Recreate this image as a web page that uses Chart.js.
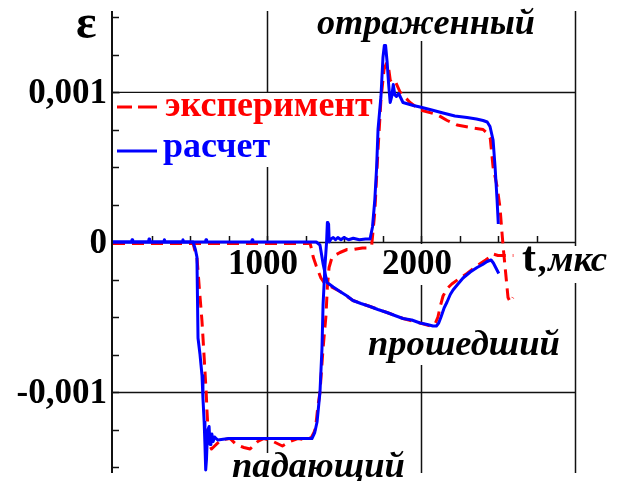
<!DOCTYPE html>
<html>
<head>
<meta charset="utf-8">
<script src="https://cdn.jsdelivr.net/npm/chart.js@4.4.0/dist/chart.umd.min.js"></script>
<style>
html,body{margin:0;padding:0;background:#fff;}
#wrap{width:624px;height:481px;position:relative;}
</style>
</head>
<body>
<div id="wrap"><canvas id="c"></canvas></div>
<script>
(function () {

/* strain values in units of 1e-3, time in microseconds */

// incident + reflected, calculation
const blueGauge1 = [
[0,0],[120,0],[124,0.015],[128,0],[230,0],[234,0.02],[238,0],[330,0],[334,0.015],[338,0],[450,0],[454,0.015],[458,0],
[520,0],[535,-0.05],[545,-0.1],[552,-0.64],[565,-0.75],[578,-0.89],[584,-1.04],[592,-1.2],[597,-1.35],[602,-1.52],
[607,-1.45],[612,-1.31],[617,-1.25],[624,-1.23],[630,-1.35],[636,-1.3],[642,-1.28],[650,-1.33],[660,-1.3],[680,-1.32],
[750,-1.31],[900,-1.31],[1100,-1.31],[1292,-1.31],[1310,-1.27],[1325,-1.2],[1344,-1.0],[1357,-0.71],[1364,-0.42],
[1377,-0.15],[1387,0],[1392,0.13],[1396,0.1],[1400,0.12],[1404,0],[1415,0.02],[1430,0.03],[1445,0.015],[1460,0.03],
[1480,0.015],[1500,0.03],[1530,0.015],[1560,0.025],[1600,0.015],[1640,0.02],[1669,0.02],[1685,0.1],[1700,0.28],[1712,0.5],
[1721,0.75],[1740,0.97],[1753,1.23],[1762,1.31],[1770,1.31],[1780,1.2],[1790,1.05],[1800,0.93],[1810,0.97],[1820,1.05],
[1830,0.98],[1840,0.97],[1855,0.99],[1883,0.93],[1950,0.91],[1994,0.9],[2070,0.88],[2143,0.86],[2220,0.84],[2299,0.83],
[2360,0.82],[2403,0.81],[2430,0.8],[2448,0.77],[2468,0.68],[2481,0.5],[2494,0.28],[2502,0.12]
];

// transmitted, calculation
const blueGauge2 = [
[0,0],[600,0],[604,0.015],[608,0],[900,0],[904,0.015],[908,0],[1320,0],[1344,-0.02],[1365,-0.15],[1390,-0.27],[1430,-0.3],
[1474,-0.33],[1520,-0.36],[1558,-0.39],[1610,-0.41],[1669,-0.43],[1720,-0.45],[1779,-0.47],[1830,-0.49],[1883,-0.51],
[1940,-0.52],[1994,-0.54],[2040,-0.55],[2078,-0.56],[2100,-0.56],[2115,-0.54],[2130,-0.5],[2150,-0.44],[2169,-0.4],
[2190,-0.35],[2208,-0.32],[2240,-0.28],[2273,-0.24],[2320,-0.2],[2364,-0.17],[2400,-0.15],[2429,-0.13],[2455,-0.12],
[2470,-0.14],[2490,-0.18],[2505,-0.21]
];

// incident + reflected, experiment
const redGauge1 = [
[0,-0.01],[520,-0.01],[530,-0.05],[545,-0.1],[560,-0.3],[578,-0.53],[592,-0.77],[605,-1.0],[610,-1.12],[617,-1.25],
[625,-1.35],[640,-1.38],[660,-1.36],[700,-1.32],[760,-1.31],[800,-1.35],[850,-1.37],[890,-1.38],[940,-1.33],[980,-1.31],
[1040,-1.33],[1100,-1.36],[1150,-1.33],[1200,-1.31],[1260,-1.32],[1290,-1.3],[1305,-1.27],[1315,-1.24],[1330,-1.1],
[1344,-1.0],[1364,-0.71],[1383,-0.49],[1392,-0.3],[1403,-0.17],[1420,-0.11],[1440,-0.09],[1474,-0.07],[1520,-0.05],
[1560,-0.05],[1620,-0.04],[1660,-0.04],[1680,-0.02],[1700,0.2],[1720,0.6],[1740,0.95],[1760,1.15],[1775,1.19],[1786,1.19],
[1800,1.08],[1818,1.05],[1838,1.06],[1864,1.0],[1929,0.93],[1994,0.88],[2104,0.85],[2170,0.81],[2234,0.78],[2338,0.76],
[2403,0.75],[2435,0.72],[2450,0.69],[2468,0.5],[2494,0.37],[2513,0.23],[2526,0.06],[2535,-0.05],[2552,-0.23],[2565,-0.37],
[2580,-0.4],[2597,-0.37]
];

// transmitted, experiment
const redGauge2 = [
[0,-0.01],[1280,-0.01],[1290,-0.05],[1300,-0.1],[1310,-0.13],[1320,-0.16],[1335,-0.2],[1350,-0.24],[1370,-0.27],[1400,-0.29],
[1474,-0.33],[1558,-0.39],[1669,-0.43],[1779,-0.47],[1883,-0.51],[1994,-0.54],[2060,-0.56],[2090,-0.55],[2110,-0.5],
[2125,-0.43],[2143,-0.36],[2170,-0.31],[2200,-0.28],[2240,-0.25],[2299,-0.21],[2360,-0.16],[2420,-0.12],[2448,-0.1],
[2468,-0.08],[2500,-0.09],[2600,-0.09]
];

const yTickValues = [-1, 0, 1];
const yTickLabels = ['-0,001', '0', '0,001'];
const xTickValues = [1000, 2000];
const xTickLabels = ['1000', '2000'];
const xGridValues = [1000, 2000, 3000];
const legendLabels = ['эксперимент', 'расчет'];
const waveLabels = ['отраженный', 'прошедший', 'падающий'];

const RED = '#ff0000';
const BLUE = '#0000ff';
const SERIF = "'Liberation Serif', 'DejaVu Serif', serif";

function pts(arr){ return arr.map(p => ({x:p[0], y:p[1]})); }

function fitFont(ctx, text, width, style){
  ctx.font = style + ' 40px ' + SERIF;
  const w = ctx.measureText(text).width;
  ctx.font = style + ' ' + (40*width/w).toFixed(2) + 'px ' + SERIF;
}

const decor = {
id: 'decor',
beforeDatasetsDraw(chart){
  const {ctx, chartArea:a, scales:{x,y}} = chart;
  ctx.save();

  function line(x1,y1,x2,y2){ ctx.beginPath(); ctx.moveTo(x1,y1); ctx.lineTo(x2,y2); ctx.stroke(); }
  function white(x1,y1,x2,y2){ ctx.fillStyle='#fff'; ctx.fillRect(x1,y1,x2-x1,y2-y1); }

  /* grid */
  ctx.strokeStyle = '#111';
  ctx.lineWidth = 1.5;
  yTickValues.forEach(v => { const py = Math.round(y.getPixelForValue(v))+0.5; line(a.left, py, a.right, py); });
  xGridValues.forEach(v => { const px = Math.round(x.getPixelForValue(v))+0.5; line(px, a.top, px, a.bottom); });

  /* white boxes behind labels */
  const y0 = y.getPixelForValue(0);
  xTickValues.forEach(v => { const px = x.getPixelForValue(v); white(px-42, y0+2, px+36, y0+43); });
  white(120, 93, 382, 167);           // legend
  white(313, 0, 540, 41);             // отраженный
  white(364, 325, 564, 365);          // прошедший
  white(228, 453, 410, 481);          // падающий
  white(517, y0+4, 612, y0+41);       // t,мкс

  /* left axis and minor ticks */
  ctx.strokeStyle = '#111';
  ctx.lineWidth = 2;
  line(a.left-1, a.top, a.left-1, a.bottom);
  ctx.lineWidth = 1.5;
  for (let v = -1.5; v <= 1.5; v += 0.25) {
    const py = Math.round(y.getPixelForValue(v))+0.5;
    line(a.left, py, a.left+6, py);
  }
  for (let v = 250; v < 3000; v += 250) {
    const px = Math.round(x.getPixelForValue(v))+0.5;
    line(px, y0-6, px, y0);
  }

  /* tick labels */
  ctx.fillStyle = '#000';
  ctx.font = 'bold 35px ' + SERIF;
  ctx.textAlign = 'right';
  ctx.textBaseline = 'alphabetic';
  yTickValues.forEach((v,i) => { ctx.fillText(yTickLabels[i], 107, y.getPixelForValue(v)+11); });
  ctx.textAlign = 'center';
  xTickValues.forEach((v,i) => { ctx.fillText(xTickLabels[i], x.getPixelForValue(v)-4, y0+32); });

  /* axis titles */
  ctx.textAlign = 'left';
  ctx.font = 'bold 48px ' + SERIF;
  ctx.fillText('ε', 76, 38);
  ctx.font = 'bold 42px ' + SERIF;
  ctx.fillText('t', 522, y0+29);
  fitFont(ctx, ',мкс', 68, 'bold italic');
  ctx.fillText(',мкс', 539, y0+29);

  /* wave labels */
  fitFont(ctx, waveLabels[0], 218, 'bold italic');
  ctx.fillText(waveLabels[0], 317, 34);
  fitFont(ctx, waveLabels[1], 192, 'bold italic');
  ctx.fillText(waveLabels[1], 368, 355);
  fitFont(ctx, waveLabels[2], 173, 'bold italic');
  ctx.fillText(waveLabels[2], 232, 477);

  /* legend */
  ctx.lineWidth = 3;
  ctx.strokeStyle = RED;
  line(117, 107, 132, 107);
  line(138, 107, 157, 107);
  ctx.strokeStyle = BLUE;
  line(117, 151, 157, 151);
  ctx.font = 'bold 36px ' + SERIF;
  ctx.fillStyle = RED;
  ctx.fillText(legendLabels[0], 165, 116);
  ctx.fillStyle = BLUE;
  ctx.fillText(legendLabels[1], 163, 157);

  ctx.restore();
}
};

const ds = (data, color, dash, order) => ({
  data: pts(data),
  showLine: true,
  borderColor: color,
  backgroundColor: color,
  borderWidth: 3,
  borderDash: dash,
  borderJoinStyle: 'round',
  pointRadius: 0,
  tension: 0,
  order: order
});

new Chart(document.getElementById('c').getContext('2d'), {
  type: 'scatter',
  data: {
    datasets: [
      ds(blueGauge1, BLUE, [], 0),
      ds(blueGauge2, BLUE, [], 0),
      ds(redGauge1, RED, [12,7], 1),
      ds(redGauge2, RED, [12,7], 1)
    ]
  },
  options: {
    responsive: true,
    maintainAspectRatio: false,
    animation: false,
    layout: { padding: { left: 113, right: 49, top: 11, bottom: 8 } },
    scales: {
      x: { type: 'linear', min: 0, max: 3000, display: false },
      y: { type: 'linear', min: -1.54, max: 1.54, display: false }
    },
    plugins: { legend: { display: false }, tooltip: { enabled: false } }
  },
  plugins: [decor]
});

})();
</script>
</body>
</html>
